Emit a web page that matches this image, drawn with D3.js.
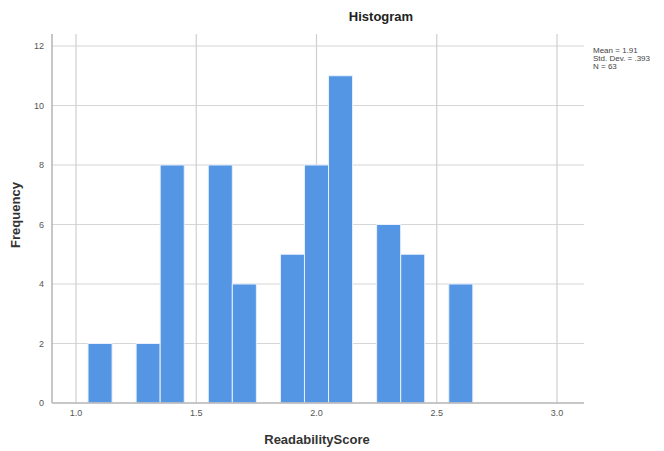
<!DOCTYPE html>
<html><head><meta charset="utf-8">
<script src="https://cdn.jsdelivr.net/npm/d3@7"></script>
<style>body{margin:0;background:#fff}</style>
</head><body>
<svg id="c" width="664" height="451"></svg>
<script>
const binStarts = [1.05, 1.25, 1.35, 1.55, 1.65, 1.85, 1.95, 2.05, 2.25, 2.35, 2.55];
const binWidth = 0.1;
const frequencies = [2, 2, 8, 8, 4, 5, 8, 11, 6, 5, 4];
const xTicks = [1.0, 1.5, 2.0, 2.5, 3.0];
const yTicks = [0, 2, 4, 6, 8, 10, 12];
const statsLines = ["Mean = 1.91", "Std. Dev. = .393", "N = 63"];

const svg = d3.select("#c");
const L = 52, R = 584, T = 34, B = 403;
const x = d3.scaleLinear().domain([1.0, 3.0]).range([76, 557]);
const y = d3.scaleLinear().domain([0, 12]).range([B, 46]);

// horizontal grid
svg.append("g").selectAll("line").data(yTicks.filter(d => d > 0)).join("line")
  .attr("x1", L).attr("x2", R).attr("y1", d => y(d)).attr("y2", d => y(d))
  .attr("stroke", "#d6d6d6").attr("stroke-width", 1.2);
// vertical grid
svg.append("g").selectAll("line").data(xTicks).join("line")
  .attr("x1", d => x(d)).attr("x2", d => x(d)).attr("y1", T).attr("y2", B)
  .attr("stroke", "#cfcfcf").attr("stroke-width", 1.2);

// bars
const data = binStarts.map((s, i) => ({s, f: frequencies[i]}));
svg.append("g").selectAll("rect").data(data).join("rect")
  .attr("x", d => x(d.s)).attr("width", d => x(d.s + binWidth) - x(d.s))
  .attr("y", d => y(d.f)).attr("height", d => y(0) - y(d.f))
  .attr("fill", "#5596e4").attr("stroke", "#e8f0fb").attr("stroke-width", 1);

// axes lines
svg.append("line").attr("x1", L).attr("x2", L).attr("y1", T).attr("y2", B)
  .attr("stroke", "#b4b4b4").attr("stroke-width", 1.5);
svg.append("line").attr("x1", L).attr("x2", R).attr("y1", B).attr("y2", B)
  .attr("stroke", "#b4b4b4").attr("stroke-width", 1.5);

// y tick labels
svg.append("g").selectAll("text").data(yTicks).join("text")
  .attr("x", 44).attr("y", d => y(d) + 3).attr("text-anchor", "end")
  .attr("font-family", "Liberation Sans, Arial, sans-serif").attr("font-size", 9).attr("fill", "#555")
  .text(d => d);
// x tick labels
svg.append("g").selectAll("text").data(xTicks).join("text")
  .attr("x", d => x(d)).attr("y", 416).attr("text-anchor", "middle")
  .attr("font-family", "Liberation Sans, Arial, sans-serif").attr("font-size", 9).attr("fill", "#555")
  .text(d => d.toFixed(1));

// title
svg.append("text").attr("x", 381).attr("y", 21).attr("text-anchor", "middle")
  .attr("font-family", "Liberation Sans, Arial, sans-serif").attr("font-size", 13).attr("font-weight", "bold").attr("fill", "#222")
  .text("Histogram");
// axis titles
svg.append("text").attr("x", 317).attr("y", 444).attr("text-anchor", "middle")
  .attr("font-family", "Liberation Sans, Arial, sans-serif").attr("font-size", 13).attr("font-weight", "bold").attr("fill", "#333")
  .text("ReadabilityScore");
svg.append("text").attr("transform", "translate(20,215) rotate(-90)").attr("text-anchor", "middle")
  .attr("font-family", "Liberation Sans, Arial, sans-serif").attr("font-size", 13).attr("font-weight", "bold").attr("fill", "#333")
  .text("Frequency");

// stats legend
svg.append("g").selectAll("text").data(statsLines).join("text")
  .attr("x", 593).attr("y", (d, i) => 53 + i * 8)
  .attr("font-family", "Liberation Sans Narrow, Arial Narrow, sans-serif").attr("font-size", 8).attr("fill", "#444")
  .text(d => d);
</script>
</body></html>
